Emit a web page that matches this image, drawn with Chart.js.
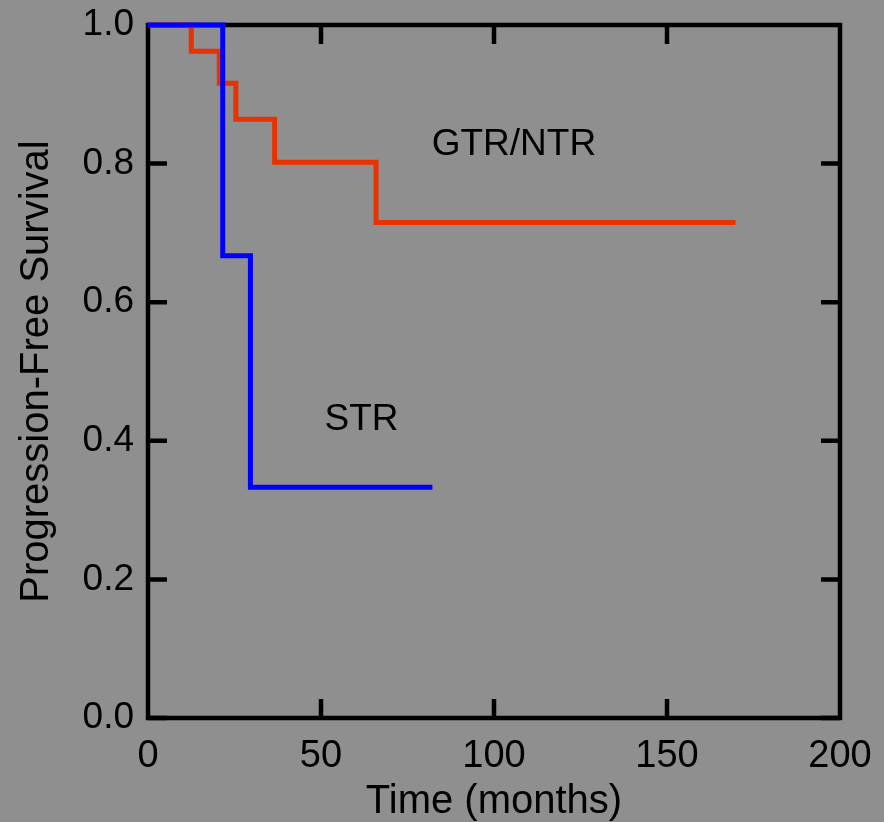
<!DOCTYPE html>
<html>
<head>
<meta charset="utf-8">
<script src="https://cdn.jsdelivr.net/npm/chart.js@4"></script>
<style>
  html, body { margin: 0; padding: 0; background: #8f8f8f; }
  #wrap { width: 884px; height: 822px; }
</style>
</head>
<body>
<div id="wrap"><canvas id="km" width="884" height="822"></canvas></div>
<script>
// Kaplan-Meier steps (months, survival)
const gtrTimes = [0, 12.5, 20.6, 25.4, 36.6, 65.9, 169.8];
const gtrSurv  = [1.0, 0.962, 0.916, 0.864, 0.802, 0.715, 0.715];
const strTimes = [0, 21.6, 29.6, 82.2];
const strSurv  = [1.0, 0.667, 0.333, 0.333];

const xTicks = [0, 50, 100, 150, 200];
const yTicks = [0, 0.2, 0.4, 0.6, 0.8, 1.0];

const curveLabels = [
  { text: 'GTR/NTR', x: 82, y: 0.827 },
  { text: 'STR', x: 51, y: 0.43 }
];

const FONT = "'Liberation Sans', Arial, sans-serif";

function toPoints(xs, ys) {
  return xs.map((x, i) => ({ x: x, y: ys[i] }));
}

// frame + inward ticks under the curves, labels on top
const framePlugin = {
  id: 'frame',
  beforeDatasetsDraw(chart) {
    const ctx = chart.ctx;
    const a = chart.chartArea;
    const xs = chart.scales.x, ys = chart.scales.y;
    const tl = 19;
    ctx.save();
    ctx.strokeStyle = '#000';
    ctx.lineWidth = 4.5;
    ctx.lineCap = 'square';
    ctx.strokeRect(a.left, a.top, a.right - a.left, a.bottom - a.top);
    ctx.lineCap = 'butt';
    ctx.beginPath();
    xTicks.slice(1, -1).forEach(v => {
      const px = xs.getPixelForValue(v);
      ctx.moveTo(px, a.bottom); ctx.lineTo(px, a.bottom - tl);
      ctx.moveTo(px, a.top); ctx.lineTo(px, a.top + tl);
    });
    yTicks.slice(0, -1).forEach(v => {
      const py = ys.getPixelForValue(v);
      ctx.moveTo(a.left, py); ctx.lineTo(a.left + tl, py);
      ctx.moveTo(a.right, py); ctx.lineTo(a.right - tl, py);
    });
    ctx.stroke();
    ctx.restore();
  },
  afterDatasetsDraw(chart) {
    const ctx = chart.ctx;
    const xs = chart.scales.x, ys = chart.scales.y;
    ctx.save();
    ctx.fillStyle = '#000';
    ctx.font = '37px ' + FONT;
    ctx.textAlign = 'left';
    ctx.textBaseline = 'middle';
    curveLabels.forEach(l => {
      ctx.fillText(l.text, xs.getPixelForValue(l.x), ys.getPixelForValue(l.y));
    });
    ctx.restore();
  }
};

new Chart(document.getElementById('km'), {
  type: 'line',
  data: {
    datasets: [
      {
        label: 'STR',
        data: toPoints(strTimes, strSurv),
        borderColor: '#0000ff',
        borderWidth: 5,
        stepped: true,
        pointRadius: 0,
        clip: false,
        order: 0
      },
      {
        label: 'GTR/NTR',
        data: toPoints(gtrTimes, gtrSurv),
        borderColor: '#e83300',
        borderWidth: 5,
        stepped: true,
        pointRadius: 0,
        clip: false,
        order: 1
      }
    ]
  },
  options: {
    responsive: false,
    animation: false,
    layout: { padding: { top: 25, right: 44, left: 0, bottom: 0 } },
    plugins: { legend: { display: false }, tooltip: { enabled: false } },
    scales: {
      x: {
        type: 'linear',
        min: 0, max: 200,
        afterBuildTicks(scale) { scale.ticks = xTicks.map(v => ({ value: v })); },
        afterFit(scale) { scale.height = 104; scale.paddingLeft = 0; scale.paddingRight = 0; },
        grid: { display: false, drawTicks: false },
        border: { display: false },
        ticks: {
          color: '#000',
          font: { family: FONT, size: 38 },
          padding: 16,
          maxRotation: 0,
          autoSkip: false
        },
        title: {
          display: true,
          text: 'Time (months)',
          color: '#000',
          font: { family: FONT, size: 40, lineHeight: 1 },
          padding: { top: 0, bottom: 0 }
        }
      },
      y: {
        type: 'linear',
        min: 0, max: 1,
        afterBuildTicks(scale) { scale.ticks = yTicks.map(v => ({ value: v })); },
        afterFit(scale) { scale.width = 148; scale.paddingTop = 0; scale.paddingBottom = 0; },
        grid: { display: false, drawTicks: false },
        border: { display: false },
        ticks: {
          color: '#000',
          font: { family: FONT, size: 37 },
          padding: 14,
          callback: v => v.toFixed(1)
        },
        title: {
          display: true,
          text: 'Progression-Free Survival',
          color: '#000',
          font: { family: FONT, size: 40, lineHeight: 1 },
          padding: { top: 17, bottom: 0 }
        }
      }
    }
  },
  plugins: [framePlugin]
});
</script>
</body>
</html>
